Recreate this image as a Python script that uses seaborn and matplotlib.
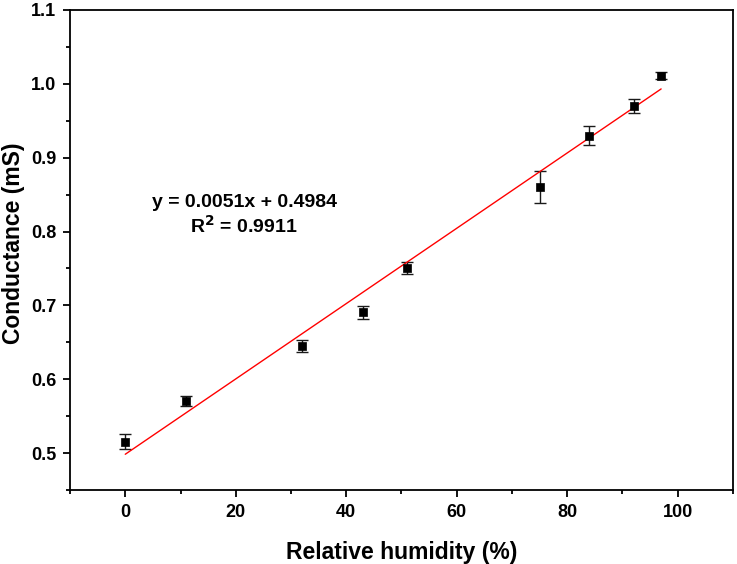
import numpy as np
import pandas as pd
import matplotlib
matplotlib.use("Agg")
import matplotlib.pyplot as plt
import seaborn as sns
from matplotlib.ticker import MultipleLocator

humidity = [0, 11, 32, 43, 51, 75, 84, 92, 97]
conductance = [0.5155, 0.5705, 0.645, 0.6905, 0.751, 0.8605, 0.930, 0.970, 1.011]
error = [0.0105, 0.0072, 0.0079, 0.009, 0.0084, 0.0212, 0.0129, 0.009, 0.0045]
slope = 0.0051
intercept = 0.4984
fit_label = "y = 0.0051x + 0.4984"
r2_label = "R$\\mathbf{^2}$ = 0.9911"
y_ticks = [0.5, 0.6, 0.7, 0.8, 0.9, 1.0, 1.1]
y_ticklabels = ["0.5", "0.6", "0.7", "0.8", "0.9", "1.0", "1.1"]

sns.set_theme(style="ticks")
plt.rcParams['font.family'] = ['Liberation Sans', 'DejaVu Sans']
plt.rcParams['font.weight'] = 'bold'
plt.rcParams['mathtext.default'] = 'bf'
plt.rcParams['text.color'] = 'black'
plt.rcParams['axes.labelcolor'] = 'black'
plt.rcParams['xtick.color'] = 'black'
plt.rcParams['ytick.color'] = 'black'
plt.rcParams['xtick.labelcolor'] = 'black'
plt.rcParams['ytick.labelcolor'] = 'black'

df = pd.DataFrame({"RH": humidity, "G": conductance, "err": error})
fit_x = np.array([min(humidity), max(humidity)])
fit_df = pd.DataFrame({"RH": fit_x, "G": slope * fit_x + intercept})

fig = plt.figure(figsize=(7.37, 5.64), dpi=100)
ax = fig.add_axes([0.095, 0.1312, 0.8995, 0.8511])

ax.errorbar(df["RH"], df["G"], yerr=df["err"], fmt='none', ecolor='#1a1a1a',
            elinewidth=1.0, capsize=4.4, capthick=1.0, zorder=2)
sns.lineplot(data=fit_df, x="RH", y="G", color='red', linewidth=1.0, ax=ax, zorder=3)
sns.scatterplot(data=df, x="RH", y="G", marker='s', color='black', s=28,
                edgecolor='black', linewidth=0.5, ax=ax, zorder=4)

ax.set_xlim(-10, 110)
ax.set_ylim(0.45, 1.1)
ax.xaxis.set_major_locator(MultipleLocator(20))
ax.xaxis.set_minor_locator(MultipleLocator(10))
ax.yaxis.set_minor_locator(MultipleLocator(0.05))
ax.set_yticks(y_ticks)
ax.set_yticklabels(y_ticklabels)

ax.tick_params(axis='both', which='major', direction='out', length=5, width=1.3,
               labelsize=13, pad=5, bottom=True, left=True, top=False, right=False,
               colors='black')
ax.tick_params(axis='both', which='minor', direction='out', length=3, width=1.3,
               bottom=True, left=True, top=False, right=False, colors='black')
for lab in ax.get_xticklabels() + ax.get_yticklabels():
    lab.set_fontweight('bold')
    lab.set_color('black')
for sp in ax.spines.values():
    sp.set_linewidth(1.3)
    sp.set_color('black')

ax.set_xlabel("Relative humidity (%)", fontsize=16.5, fontweight='bold', color='black')
ax.set_ylabel("Conductance (mS)", fontsize=16.5, fontweight='bold', color='black')
ax.xaxis.set_label_coords(0.5, -0.106)
ax.yaxis.set_label_coords(-0.068, 0.515)

ax.text(21.6, 0.8331, fit_label, ha='center', va='baseline', fontsize=14,
        fontweight='bold', color='black')
ax.text(21.4, 0.7978, r2_label, ha='center', va='baseline', fontsize=14,
        fontweight='bold', color='black')

fig.savefig("out.png", dpi=100)
